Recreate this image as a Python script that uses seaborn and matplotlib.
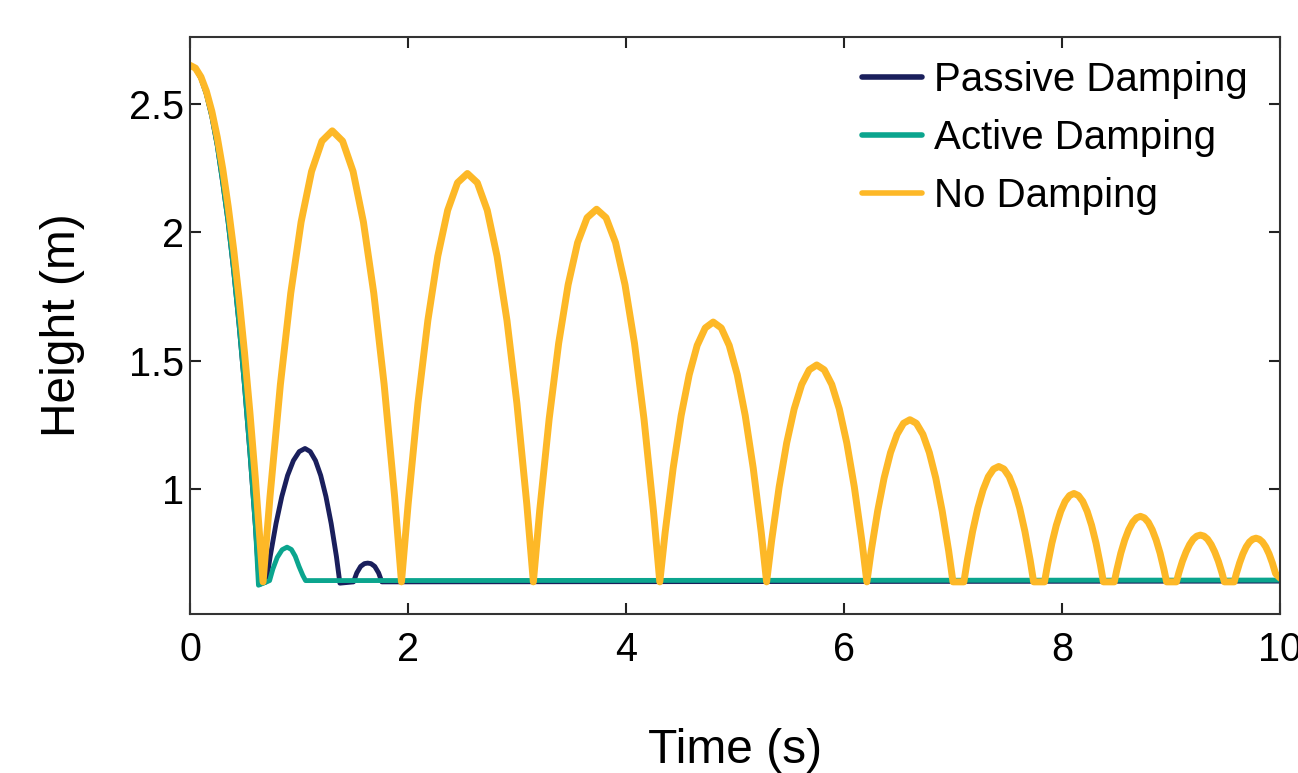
import pandas as pd
import matplotlib
matplotlib.use("Agg")
import matplotlib.pyplot as plt
import seaborn as sns

# Passive damping: falls, one big bounce, one small, then rests
passive_t = [0.0, 0.05, 0.1, 0.15, 0.2, 0.25, 0.3, 0.35, 0.4, 0.45, 0.5, 0.55, 0.6, 0.635, 0.70,
             0.7355, 0.789, 0.842, 0.895, 0.9485, 1.002, 1.055, 1.103, 1.151, 1.199, 1.247, 1.295, 1.343, 1.375,
             1.50, 1.53, 1.565, 1.60, 1.63, 1.66, 1.695, 1.73, 1.76, 10.0]
passive_h = [2.65, 2.638, 2.600, 2.538, 2.451, 2.338, 2.194, 2.039, 1.853, 1.641, 1.404, 1.142, 0.856, 0.63, 0.64,
             0.739, 0.867, 0.972, 1.054, 1.112, 1.147, 1.159, 1.147, 1.112, 1.054, 0.972, 0.867, 0.739, 0.635,
             0.64, 0.675, 0.700, 0.711, 0.713, 0.711, 0.700, 0.675, 0.64, 0.643]

# Active damping: falls, one tiny bounce, then rests
active_t = [0.0, 0.05, 0.1, 0.15, 0.2, 0.25, 0.3, 0.35, 0.4, 0.45, 0.5, 0.55, 0.6, 0.628, 0.73,
            0.76, 0.80, 0.845, 0.89, 0.93, 0.965, 1.00, 1.035, 1.06, 10.0]
active_h = [2.65, 2.638, 2.600, 2.538, 2.451, 2.338, 2.194, 2.039, 1.853, 1.641, 1.404, 1.142, 0.856, 0.627, 0.645,
            0.69, 0.735, 0.765, 0.775, 0.766, 0.74, 0.70, 0.665, 0.645, 0.647]

# No damping: repeated bounces
nodamp_t = [0.0, 0.05, 0.1, 0.15, 0.2, 0.25, 0.3, 0.35, 0.4, 0.45, 0.5, 0.55, 0.6, 0.67,
            0.734, 0.829, 0.924, 1.019, 1.115, 1.210, 1.305, 1.400, 1.496, 1.591, 1.686, 1.781, 1.877, 1.94,
            2.001, 2.091, 2.182, 2.273, 2.364, 2.454, 2.545, 2.636, 2.727, 2.817, 2.908, 2.999, 3.090, 3.15,
            3.208, 3.295, 3.382, 3.469, 3.556, 3.643, 3.73, 3.817, 3.904, 3.991, 4.078, 4.165, 4.252, 4.31,
            4.359, 4.4325, 4.506, 4.580, 4.653, 4.727, 4.80, 4.874, 4.947, 5.021, 5.094, 5.1675, 5.241, 5.29,
            5.336, 5.405, 5.474, 5.543, 5.612, 5.681, 5.75, 5.819, 5.888, 5.957, 6.026, 6.095, 6.164, 6.21,
            6.2495, 6.309, 6.368, 6.427, 6.487, 6.546, 6.605, 6.664, 6.724, 6.783, 6.842, 6.901, 6.9605, 7.00, 7.10,
            7.132, 7.18, 7.228, 7.276, 7.324, 7.372, 7.42, 7.468, 7.516, 7.564, 7.612, 7.66, 7.708, 7.74, 7.84,
            7.867, 7.9075, 7.948, 7.9885, 8.029, 8.0695, 8.11, 8.1505, 8.191, 8.2315, 8.272, 8.3125, 8.353, 8.38, 8.48,
            8.504, 8.54, 8.576, 8.612, 8.648, 8.684, 8.72, 8.756, 8.792, 8.828, 8.864, 8.90, 8.936, 8.96, 9.05,
            9.072, 9.105, 9.138, 9.171, 9.204, 9.237, 9.27, 9.303, 9.336, 9.369, 9.402, 9.435, 9.468, 9.49, 9.58,
            9.60, 9.63, 9.66, 9.69, 9.72, 9.75, 9.78, 9.81, 9.84, 9.87, 9.90, 9.93, 9.96, 10.0]
nodamp_h = [2.65, 2.639, 2.605, 2.549, 2.471, 2.370, 2.247, 2.101, 1.934, 1.743, 1.531, 1.296, 1.038, 0.64,
            0.973, 1.408, 1.763, 2.040, 2.237, 2.355, 2.395, 2.355, 2.237, 2.040, 1.763, 1.408, 0.973, 0.64,
            0.942, 1.335, 1.657, 1.907, 2.086, 2.193, 2.229, 2.193, 2.086, 1.907, 1.657, 1.335, 0.942, 0.64,
            0.916, 1.274, 1.568, 1.796, 1.960, 2.057, 2.09, 2.057, 1.960, 1.796, 1.568, 1.274, 0.916, 0.64,
            0.832, 1.082, 1.287, 1.446, 1.560, 1.628, 1.651, 1.628, 1.560, 1.446, 1.287, 1.082, 0.832, 0.64,
            0.800, 1.009, 1.180, 1.313, 1.408, 1.465, 1.484, 1.465, 1.408, 1.313, 1.180, 1.009, 0.800, 0.64,
            0.760, 0.916, 1.044, 1.143, 1.214, 1.257, 1.271, 1.257, 1.214, 1.143, 1.044, 0.916, 0.760, 0.64, 0.64,
            0.725, 0.836, 0.927, 0.998, 1.049, 1.079, 1.089, 1.079, 1.049, 0.998, 0.927, 0.836, 0.725, 0.64, 0.64,
            0.705, 0.7905, 0.860, 0.914, 0.953, 0.976, 0.984, 0.976, 0.953, 0.914, 0.860, 0.7905, 0.705, 0.64, 0.64,
            0.688, 0.752, 0.803, 0.843, 0.872, 0.889, 0.895, 0.889, 0.872, 0.843, 0.803, 0.752, 0.688, 0.64, 0.64,
            0.675, 0.720, 0.756, 0.785, 0.806, 0.818, 0.822, 0.818, 0.806, 0.785, 0.756, 0.720, 0.675, 0.64, 0.64,
            0.672, 0.714, 0.749, 0.776, 0.795, 0.806, 0.81, 0.806, 0.795, 0.776, 0.749, 0.714, 0.672, 0.655]

labels = ["Passive Damping", "Active Damping", "No Damping"]
colors = ["#1a1f5c", "#0ba58e", "#fdb827"]

sns.set_theme(style="ticks")
plt.rcParams['font.family'] = ['Liberation Sans', 'DejaVu Sans']
plt.rcParams['text.color'] = 'black'
plt.rcParams['axes.labelcolor'] = 'black'

fig = plt.figure(figsize=(12.98, 7.73), dpi=100)
ax = fig.add_axes([0.1464, 0.2057, 0.8397, 0.7464])

series = [(passive_t, passive_h, 3.5), (active_t, active_h, 3.5), (nodamp_t, nodamp_h, 5.0)]
for (t, h, lw), lab, col in zip(series, labels, colors):
    df = pd.DataFrame({'Time': t, 'Height': h})
    sns.lineplot(data=df, x='Time', y='Height', ax=ax, color=col, linewidth=lw,
                 label=lab, estimator=None, sort=False, solid_joinstyle='round')

ax.set_xlim(0, 10)
ax.set_ylim(0.515, 2.76)
ax.set_xticks([0, 2, 4, 6, 8, 10])
ax.set_yticks([1, 1.5, 2, 2.5])
ax.set_xticklabels(['0', '2', '4', '6', '8', '10'])
ax.set_yticklabels(['1', '1.5', '2', '2.5'])

for s in ax.spines.values():
    s.set_linewidth(1.5)
    s.set_color('#333333')
ax.tick_params(axis='both', direction='in', length=8, width=1.5, color='#222222',
               top=True, right=True, labelsize=28.5, labelcolor='black')
ax.tick_params(axis='x', pad=12)
ax.tick_params(axis='y', pad=4)

ax.set_xlabel('Time (s)', fontsize=34.5, labelpad=43)
ax.set_ylabel('Height (m)', fontsize=34.5, labelpad=32)

leg = ax.legend(loc='upper right', frameon=False, fontsize=29, handlelength=1.5,
                handletextpad=0.28, labelspacing=0.5, borderaxespad=0.3,
                bbox_to_anchor=(0.996, 1.008))
for line in leg.get_lines():
    line.set_linewidth(4)

fig.savefig('out.png', dpi=100)
